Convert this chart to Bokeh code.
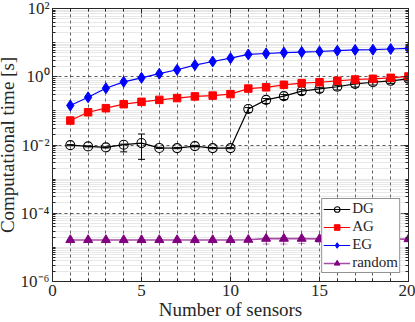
from bokeh.plotting import figure
from bokeh.models import (FixedTicker, LogAxis, LinearAxis, CustomJSTickFormatter,
                          Whisker, ColumnDataSource, TeeHead)
from bokeh.embed import file_html
from bokeh.resources import INLINE

# ---- data ----
sensors = list(range(1, 21))

dg = [0.0099, 0.0091, 0.0085, 0.0102, 0.0114, 0.0082, 0.0081, 0.0093, 0.0081, 0.0081,
      0.114, 0.21, 0.27, 0.38, 0.44, 0.51, 0.62, 0.69, 0.76, 0.87]
dg_lo = [0.0095, 0.0088, 0.0082, 0.0063, 0.0038, 0.0079, 0.0078, 0.0088, 0.0078, 0.0078,
         0.090, 0.165, 0.215, 0.30, 0.35, 0.41, 0.50, 0.57, 0.64, 0.75]
dg_hi = [0.0103, 0.0094, 0.0088, 0.0106, 0.0210, 0.0085, 0.0084, 0.0098, 0.0084, 0.0084,
         0.125, 0.23, 0.30, 0.42, 0.48, 0.56, 0.67, 0.74, 0.82, 0.93]

ag = [0.052, 0.091, 0.12, 0.157, 0.184, 0.21, 0.237, 0.266, 0.28, 0.31,
      0.45, 0.49, 0.58, 0.65, 0.69, 0.76, 0.83, 0.87, 0.93, 1.02]
ag_lo = [0.050, 0.088, 0.116, 0.152, 0.178, 0.203, 0.229, 0.257, 0.271, 0.30,
         0.38, 0.42, 0.52, 0.59, 0.63, 0.70, 0.77, 0.81, 0.87, 0.96]
ag_hi = [0.054, 0.094, 0.124, 0.162, 0.190, 0.217, 0.245, 0.275, 0.289, 0.32,
         0.49, 0.53, 0.62, 0.69, 0.73, 0.80, 0.87, 0.91, 0.97, 1.06]

eg = [0.144, 0.25, 0.46, 0.71, 0.93, 1.23, 1.6, 2.2, 2.8, 3.5,
      4.5, 4.8, 5.1, 5.3, 5.5, 5.8, 6.1, 6.2, 6.5, 6.8]

rnd = [1.65e-5, 1.65e-5, 1.65e-5, 1.65e-5, 1.65e-5, 1.65e-5, 1.65e-5, 1.65e-5, 1.65e-5, 1.65e-5,
       1.68e-5, 1.8e-5, 1.8e-5, 1.8e-5, 1.78e-5, 1.75e-5, 1.75e-5, 1.75e-5, 1.75e-5, 1.75e-5]
rnd_lo = [1.6e-5, 1.6e-5, 1.6e-5, 1.6e-5, 1.6e-5, 1.6e-5, 1.6e-5, 1.6e-5, 1.6e-5, 1.6e-5,
          1.6e-5, 1.25e-5, 1.25e-5, 1.3e-5, 1.4e-5, 1.5e-5, 1.5e-5, 1.5e-5, 1.5e-5, 1.55e-5]
rnd_hi = [1.7e-5, 1.7e-5, 1.7e-5, 1.7e-5, 1.7e-5, 1.7e-5, 1.7e-5, 1.7e-5, 1.7e-5, 1.7e-5,
          1.75e-5, 1.95e-5, 1.95e-5, 1.95e-5, 1.9e-5, 1.9e-5, 1.9e-5, 1.9e-5, 1.9e-5, 1.9e-5]

x_ticks = [0, 5, 10, 15, 20]
y_ticks = [1e-6, 1e-4, 1e-2, 1e0, 1e2]
y_minor = [k * 10.0 ** n for n in range(-6, 2) for k in range(1, 10)
           if not (k == 1 and n % 2 == 0)]

FONT = "Liberation Serif"
AXC = "#262626"

p = figure(width=422, height=330, x_range=(0, 20), y_range=(1e-6, 1e2),
           y_axis_type="log", output_backend="svg", toolbar_location=None,
           margin=(-8, -8, -8, -7),
           min_border_left=0, min_border_right=7, min_border_top=16, min_border_bottom=0)
p.background_fill_color = "white"
p.border_fill_color = "white"
p.outline_line_color = AXC

sup = """
const s = {'-':'\u207b','0':'\u2070','1':'\u00b9','2':'\u00b2','3':'\u00b3','4':'\u2074',
           '5':'\u2075','6':'\u2076','7':'\u2077','8':'\u2078','9':'\u2079'};
const e = Math.round(Math.log10(tick));
return '10' + String(e).split('').map(c => s[c]).join('');
"""

xt = FixedTicker(ticks=x_ticks, minor_ticks=sensors)
yt = FixedTicker(ticks=y_ticks, minor_ticks=y_minor)

def style_axis(ax):
    ax.major_tick_in = 5
    ax.major_tick_out = 0
    ax.minor_tick_in = 3
    ax.minor_tick_out = 0
    ax.axis_line_color = AXC
    ax.major_tick_line_color = AXC
    ax.minor_tick_line_color = AXC
    ax.major_label_text_font = FONT
    ax.major_label_text_font_size = "17px"
    ax.major_label_text_color = AXC
    ax.axis_label_text_font = FONT
    ax.axis_label_text_font_size = "19px"
    ax.axis_label_text_font_style = "normal"
    ax.axis_label_text_color = AXC

p.xaxis.ticker = xt
p.yaxis.ticker = yt
p.yaxis.formatter = CustomJSTickFormatter(code=sup)
p.xaxis.axis_label = "Number of sensors"
p.yaxis.axis_label = "Computational time [s]"
style_axis(p.xaxis[0])
style_axis(p.yaxis[0])
p.xaxis.major_label_standoff = 3
p.xaxis.axis_label_standoff = 0
p.yaxis.major_label_standoff = 3
p.yaxis.axis_label_standoff = 0

blank = CustomJSTickFormatter(code="return '';")
top = LinearAxis(ticker=xt, formatter=blank)
right = LogAxis(ticker=yt, formatter=blank)
for ax in (top, right):
    style_axis(ax)
    ax.major_label_text_font_size = "1px"
    ax.major_label_text_alpha = 0
    ax.major_label_standoff = 0
    ax.axis_label_standoff = 0
p.add_layout(top, "above")
p.add_layout(right, "right")

p.xgrid.ticker = FixedTicker(ticks=sensors)
p.xgrid.grid_line_color = AXC
p.xgrid.grid_line_alpha = 0.75
p.xgrid.grid_line_dash = "3 3"
p.ygrid.ticker = yt
p.ygrid.grid_line_color = AXC
p.ygrid.grid_line_alpha = 0.75
p.ygrid.grid_line_dash = "3 3"
p.ygrid.minor_grid_line_color = "#b0b0b0"
p.ygrid.minor_grid_line_alpha = 0.6
p.ygrid.minor_grid_line_dash = "1 1"

def errbars(vals_lo, vals_hi, color, alpha=1.0):
    src = ColumnDataSource(dict(x=sensors, lo=vals_lo, hi=vals_hi))
    w = Whisker(source=src, base="x", lower="lo", upper="hi", dimension="height",
                line_color=color, line_alpha=alpha, line_width=1,
                upper_head=TeeHead(size=7, line_color=color, line_alpha=alpha),
                lower_head=TeeHead(size=7, line_color=color, line_alpha=alpha))
    p.add_layout(w)

errbars(dg_lo, dg_hi, "black")
errbars(ag_lo, ag_hi, "red", 0.6)
errbars(rnd_lo, rnd_hi, "#800080", 0.4)

p.line(sensors, dg, color="black", line_width=1.2, legend_label="DG")
p.scatter(sensors, dg, marker="circle", size=9, line_color="black", fill_color=None,
          line_width=1.1, legend_label="DG")

p.line(sensors, ag, color="red", line_width=1.2, legend_label="AG")
p.scatter(sensors, ag, marker="square", size=7.5, line_color="red", fill_color="red",
          legend_label="AG")

p.line(sensors, eg, color="blue", line_width=1.2, legend_label="EG")
p.scatter(sensors, eg, marker="diamond", size=11, line_color="blue", fill_color="blue",
          legend_label="EG")

p.line(sensors, rnd, color="#800080", line_alpha=0.7, line_width=1.6, legend_label="random")
p.scatter(sensors, rnd, marker="triangle", size=9, line_color="#800080",
          fill_color="#800080", legend_label="random")

lg = p.legend[0]
lg.location = "bottom_right"
lg.margin = 8
lg.padding = 1
lg.spacing = 1
lg.glyph_width = 27
lg.glyph_height = 14
lg.label_height = 14
lg.label_standoff = 2
lg.label_text_font = FONT
lg.label_text_font_size = "15px"
lg.label_text_color = AXC
lg.border_line_color = AXC
lg.border_line_width = 1
lg.background_fill_color = "white"
lg.background_fill_alpha = 1.0

open("out.html", "w").write(file_html(p, INLINE))
